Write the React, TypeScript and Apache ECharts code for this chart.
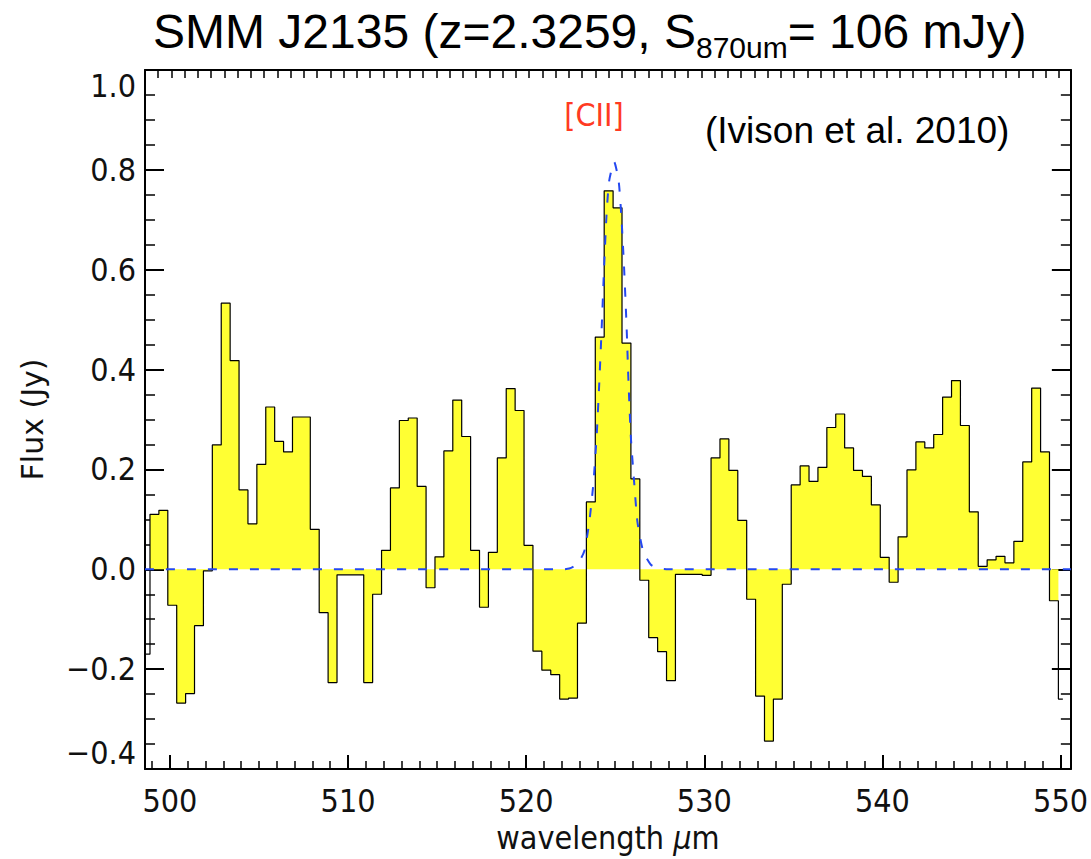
import React, { useEffect, useRef } from 'react';
import * as echarts from 'echarts';

// Bin centres (µm) of the observed spectrum
const wavelength = [
  498.63, 499.13, 499.63, 500.13, 500.63, 501.13, 501.63, 502.13, 502.63, 503.13,
  503.63, 504.13, 504.63, 505.13, 505.63, 506.13, 506.63, 507.13, 507.63, 508.13,
  508.63, 509.13, 509.63, 510.13, 510.63, 511.13, 511.63, 512.13, 512.63, 513.13,
  513.63, 514.13, 514.63, 515.13, 515.63, 516.13, 516.63, 517.13, 517.63, 518.13,
  518.63, 519.13, 519.63, 520.13, 520.63, 521.13, 521.63, 522.13, 522.63, 523.13,
  523.63, 524.13, 524.63, 525.13, 525.63, 526.13, 526.63, 527.13, 527.63, 528.13,
  528.63, 529.13, 529.63, 530.13, 530.63, 531.13, 531.63, 532.13, 532.63, 533.13,
  533.63, 534.13, 534.63, 535.13, 535.63, 536.13, 536.63, 537.13, 537.63, 538.13,
  538.63, 539.13, 539.63, 540.13, 540.63, 541.13, 541.63, 542.13, 542.63, 543.13,
  543.63, 544.13, 544.63, 545.13, 545.63, 546.13, 546.63, 547.13, 547.63, 548.13,
  548.63, 549.13, 549.63, 550.13,
];

// Flux (Jy) in each bin
const flux = [
  -0.170, 0.110, 0.118, -0.072, -0.268, -0.249, -0.113, -0.003, 0.249, 0.533,
  0.418, 0.159, 0.091, 0.210, 0.325, 0.256, 0.235, 0.305, 0.305, 0.080,
  -0.087, -0.227, -0.011, -0.011, -0.011, -0.227, -0.050, 0.038, 0.163, 0.298,
  0.303, 0.166, -0.037, 0.025, 0.237, 0.339, 0.266, 0.038, -0.076, 0.034,
  0.223, 0.362, 0.318, 0.048, -0.164, -0.202, -0.211, -0.260, -0.258, -0.108,
  0.135, 0.465, 0.758, 0.724, 0.453, 0.181, -0.022, -0.137, -0.165, -0.223,
  -0.010, -0.010, -0.010, -0.012, 0.223, 0.261, 0.198, 0.098, -0.060, -0.254,
  -0.344, -0.260, -0.030, 0.169, 0.207, 0.176, 0.204, 0.284, 0.311, 0.243,
  0.198, 0.186, 0.129, 0.024, -0.026, 0.065, 0.199, 0.255, 0.243, 0.270,
  0.345, 0.378, 0.288, 0.115, 0.006, 0.019, 0.026, 0.013, 0.056, 0.215,
  0.363, 0.235, -0.063, -0.260,
];

// Fitted [CII] line profile (blue dashed)
const fitWavelength = [
  498.6, 522.0, 522.42, 522.89, 523.26, 523.54, 523.77, 523.95, 524.10, 524.25,
  524.38, 524.51, 524.66, 524.94, 525.19, 525.34, 525.49, 525.63, 525.75, 525.88,
  526.07, 526.25, 526.57, 527.00, 527.47, 528.0, 550.58,
];
const fitFlux = [
  0, 0, 0.0015, 0.011, 0.036, 0.094, 0.171, 0.263, 0.370, 0.493,
  0.609, 0.709, 0.778, 0.816, 0.778, 0.709, 0.609, 0.493, 0.370, 0.263,
  0.171, 0.094, 0.036, 0.009, 0.0015, 0, 0,
];

const titleMain1 = 'SMM J2135 (z=2.3259, S';
const titleSub = '870um';
const titleMain2 = '= 106 mJy)';
const lineLabel = '[CII]';
const refLabel = '(Ivison et al. 2010)';
const xName = 'wavelength ';
const yName = 'Flux (Jy)';

const X_MIN = 498.6;
const X_MAX = 550.58;

export default function App() {
  const ref = useRef<HTMLDivElement>(null);

  useEffect(() => {
    if (!ref.current) return;
    const chart = echarts.init(ref.current, null, { renderer: 'svg' });

    const tickFont = "'Liberation Sans Narrow', 'DejaVu Sans Condensed', 'Roboto Condensed', Roboto, sans-serif";
    const arial = "'Liberation Sans', Arial, Helvetica, sans-serif";
    const wide = "'DejaVu Sans', Verdana, sans-serif";

    const stepData = wavelength.map((w, i) => [w, flux[i]]);
    const fillData = wavelength.map((w, i) => [
      w,
      i === 0 || i === wavelength.length - 1 ? 0 : flux[i],
    ]);
    const fitData = fitWavelength.map((w, i) => [w, fitFlux[i]]);

    const frameLine = { show: true, onZero: false, lineStyle: { color: '#000', width: 2 } };

    const yFmt = (v: number) => {
      if (Math.abs(v) < 1e-9) return '0.0';
      return v < 0 ? '\u2212' + Math.abs(v).toFixed(1) : v.toFixed(1);
    };

    const option: any = {
      animation: false,
      backgroundColor: '#ffffff',
      title: {
        text: `{a|${titleMain1}}{b|${titleSub}}{a|${titleMain2}}`,
        left: 153,
        top: 7,
        padding: 0,
        textStyle: {
          fontWeight: 'normal',
          rich: {
            a: { fontFamily: arial, fontSize: 48, fontWeight: 'normal', lineHeight: 48, verticalAlign: 'top', color: '#000' },
            b: { fontFamily: arial, fontSize: 30, fontWeight: 'normal', verticalAlign: 'top', padding: [25, 0, 0, 0], color: '#000' },
          },
        },
      },
      grid: { left: 145, right: 18.5, top: 70, bottom: 90, containLabel: false },
      xAxis: [
        {
          type: 'value',
          position: 'bottom',
          min: X_MIN,
          max: X_MAX,
          splitNumber: 5,
          axisLine: frameLine,
          axisTick: { show: true, inside: true, length: 14, lineStyle: { color: '#000', width: 2 } },
          minorTick: { show: true, splitNumber: 10, length: 8, lineStyle: { color: '#000', width: 1.5 } },
          splitLine: { show: false },
          minorSplitLine: { show: false },
          axisLabel: {
            show: true,
            margin: 16,
            fontSize: 32,
            fontFamily: tickFont,
            color: '#111',
            showMinLabel: false,
            showMaxLabel: false,
            formatter: (v: number) => String(Math.round(v)),
          },
          name: xName + '{mu|\u03bc}m',
          nameLocation: 'middle',
          nameGap: 50,
          nameTextStyle: {
            fontSize: 32,
            fontFamily: tickFont,
            color: '#111',
            rich: { mu: { fontSize: 32, fontFamily: tickFont, fontStyle: 'italic', color: '#111' } },
          },
        },
        {
          type: 'value',
          position: 'top',
          min: 0,
          max: 69.9,
          interval: 1,
          axisLine: frameLine,
          axisTick: { show: true, inside: true, length: 8, lineStyle: { color: '#000', width: 1.5 } },
          axisLabel: { show: false },
          splitLine: { show: false },
        },
      ],
      yAxis: [
        {
          type: 'value',
          position: 'left',
          min: -0.4,
          max: 1.0,
          interval: 0.2,
          axisLine: frameLine,
          axisTick: { show: true, inside: true, length: 19, lineStyle: { color: '#000', width: 2 } },
          minorTick: { show: true, splitNumber: 4, length: 10, lineStyle: { color: '#000', width: 1.5 } },
          splitLine: { show: false },
          minorSplitLine: { show: false },
          axisLabel: {
            show: true,
            margin: 9,
            fontSize: 32,
            fontFamily: tickFont,
            color: '#111',
            formatter: yFmt,
            verticalAlignMaxLabel: 'top',
            verticalAlignMinLabel: 'bottom',
          },
          name: yName,
          nameLocation: 'middle',
          nameGap: 98,
          nameRotate: 90,
          nameTextStyle: { fontSize: 30, fontFamily: wide, color: '#111' },
        },
        {
          type: 'value',
          position: 'right',
          min: -0.4,
          max: 1.0,
          interval: 0.2,
          axisLine: frameLine,
          axisTick: { show: true, inside: true, length: 19, lineStyle: { color: '#000', width: 2 } },
          minorTick: { show: true, splitNumber: 4, length: 10, lineStyle: { color: '#000', width: 1.5 } },
          splitLine: { show: false },
          minorSplitLine: { show: false },
          axisLabel: { show: false },
        },
      ],
      series: [
        {
          name: 'fill',
          type: 'line',
          step: 'middle',
          xAxisIndex: 0,
          yAxisIndex: 0,
          data: fillData,
          symbol: 'none',
          lineStyle: { width: 0, opacity: 0 },
          areaStyle: { color: '#ffff33', opacity: 1, origin: 0 },
          silent: true,
          z: 1,
        },
        {
          name: 'spectrum',
          type: 'line',
          step: 'middle',
          xAxisIndex: 0,
          yAxisIndex: 0,
          data: stepData,
          symbol: 'none',
          lineStyle: { color: '#000', width: 1.2 },
          silent: true,
          z: 2,
        },
        {
          name: 'fit',
          type: 'line',
          xAxisIndex: 0,
          yAxisIndex: 0,
          data: fitData,
          symbol: 'none',
          smooth: 0.2,
          lineStyle: { color: '#2448f0', width: 2, type: [9, 12] },
          silent: true,
          z: 3,
        },
      ],
      graphic: [
        {
          type: 'text',
          x: 594,
          y: 115,
          style: {
            text: lineLabel,
            fill: '#ff3a22',
            fontSize: 32,
            fontFamily: tickFont,
            align: 'center',
            verticalAlign: 'middle',
            textAlign: 'center',
            textVerticalAlign: 'middle',
          },
        },
        {
          type: 'text',
          x: 705,
          y: 130,
          style: {
            text: refLabel,
            fill: '#000',
            fontSize: 37,
            fontFamily: arial,
            align: 'left',
            verticalAlign: 'middle',
            textAlign: 'left',
            textVerticalAlign: 'middle',
          },
        },
      ],
    };

    chart.setOption(option);
    return () => chart.dispose();
  }, []);

  return (
    <div
      ref={ref}
      style={{ position: 'fixed', left: 0, top: 0, width: 1091, height: 859, background: '#fff' }}
    />
  );
}
